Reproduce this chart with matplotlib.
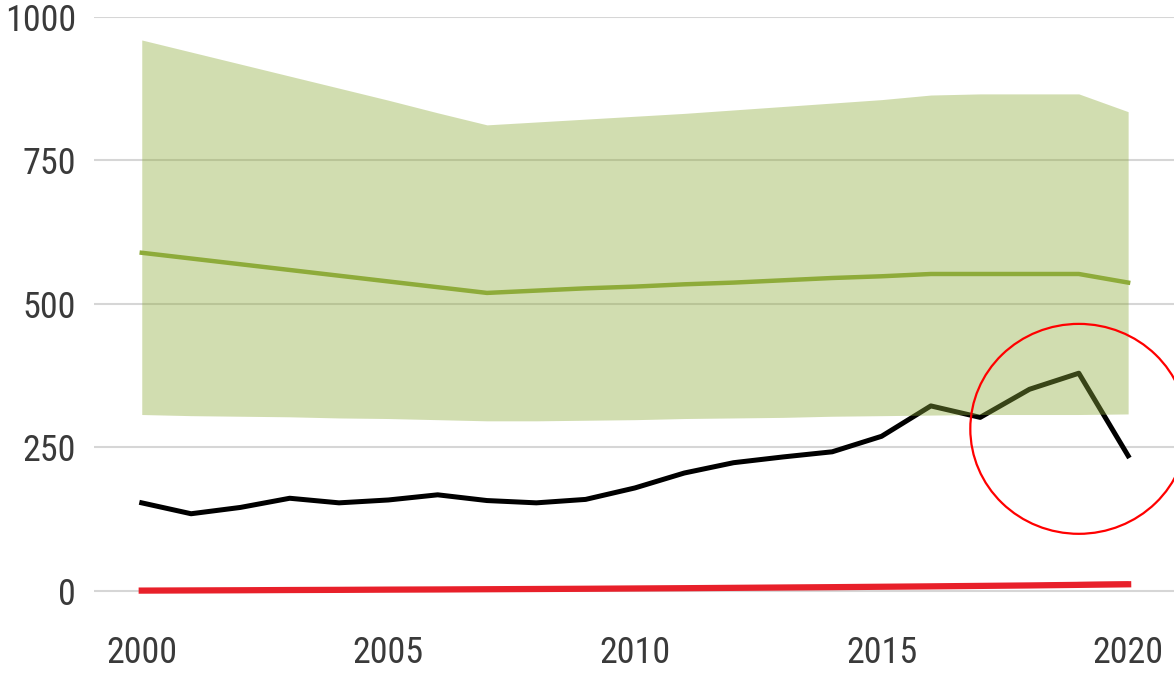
import matplotlib
matplotlib.use("Agg")
import matplotlib.pyplot as plt
from matplotlib import font_manager
from matplotlib.patches import Ellipse

# prefer a narrow sans if one is around, else plain Liberation Sans
installed = {f.name for f in font_manager.fontManager.ttflist}
family = "Liberation Sans"
for cand in ["Liberation Sans Narrow", "Roboto Condensed", "Open Sans Condensed", "Arial Narrow"]:
    if cand in installed:
        family = cand
        break
plt.rcParams["font.family"] = [family, "DejaVu Sans"]
narrow = family != "Liberation Sans"

years = list(range(2000, 2021))

# observed series (black)
observed = [153, 134, 145, 161, 153, 158, 167, 157, 153, 159, 179,
            205, 223, 233, 242, 269, 322, 302, 351, 379, 235]

# green model: mean and range
green_mean = [589, 579, 569, 559, 549, 539, 529, 519, 523, 527, 530,
              534, 537, 541, 545, 548, 552, 552, 552, 552, 537]
green_upper = [960, 939, 918, 897, 876, 855, 833, 812, 817, 822, 827,
               832, 838, 844, 850, 856, 864, 866, 866, 866, 835]
green_lower = [307, 305, 304, 303, 301, 300, 298, 296, 296, 297, 298,
               300, 301, 302, 304, 305, 306, 307, 307, 307, 308]

# red model: mean and range
red_mean = [0, 0.3, 0.6, 1.0, 1.3, 1.7, 2.0, 2.4, 2.8, 3.2, 3.7,
            4.2, 4.8, 5.4, 6.0, 6.7, 7.4, 8.2, 9.0, 10.0, 11.0]
red_lower = [-1, -0.8, -0.5, -0.2, 0.1, 0.4, 0.7, 1.0, 1.4, 1.8, 2.2,
             2.7, 3.2, 3.8, 4.3, 4.9, 5.6, 6.3, 7.0, 8.0, 9.0]
red_upper = [1, 1.4, 1.8, 2.2, 2.6, 3.1, 3.6, 4.1, 4.7, 5.3, 6.0,
             6.7, 7.5, 8.3, 9.2, 10.1, 11.1, 12.2, 13.4, 16.0, 17.5]

yticks = [0, 250, 500, 750, 1000]
xticks = [2000, 2005, 2010, 2015, 2020]

green = "#8eab3a"
red = "#e8202a"
text_col = "#3a3a3a"

fig = plt.figure(figsize=(11.74, 6.73), dpi=100)
ax = fig.add_axes([0.080, 0.0713, 0.920, 0.9034])

ax.set_axisbelow(True)
ax.grid(axis="y", color="#d6d6d6", linewidth=1.5, zorder=0)
ax.grid(axis="x", visible=False)

ax.plot(years, observed, color="black", linewidth=3.6, zorder=2)
ax.plot(years, red_mean, color=red, linewidth=4.5, zorder=2)
ax.fill_between(years, red_lower, red_upper, color=red, alpha=0.5,
                linewidth=0, zorder=2)
ax.plot(years, green_mean, color=green, linewidth=3.2, zorder=3)
# band drawn on top so lines below it show through tinted
ax.fill_between(years, green_lower, green_upper, color=green, alpha=0.4,
                linewidth=0, zorder=4)

circle = Ellipse((2019.0, 282), width=4.4, height=366, fill=False,
                 edgecolor="#ff0000", linewidth=1.6, zorder=5, clip_on=False)
ax.add_patch(circle)

ax.set_xlim(1999.03, 2020.93)
ax.set_ylim(-60, 1000)
ax.set_xticks(xticks)
ax.set_yticks(yticks)
ax.tick_params(axis="both", length=0, labelsize=26 if narrow else 23,
               labelcolor=text_col)
ax.tick_params(axis="y", pad=13)
ax.tick_params(axis="x", pad=7)
for s in ax.spines.values():
    s.set_visible(False)

fig.savefig("out.png", dpi=100)
